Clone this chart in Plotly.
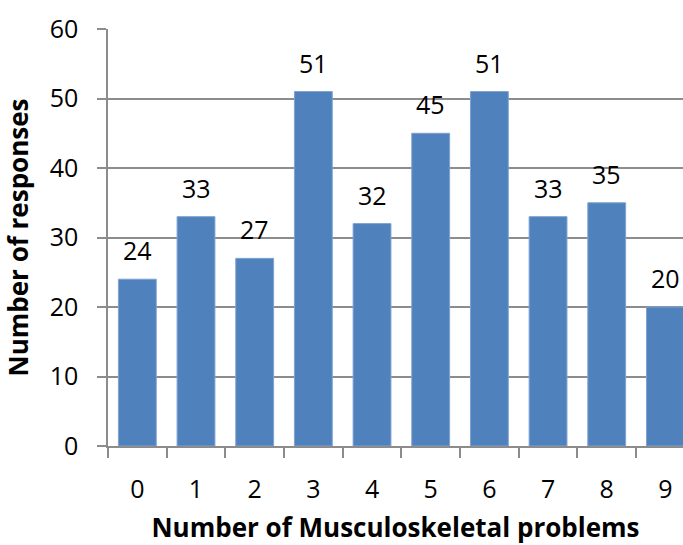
import plotly.graph_objects as go

problems = ["0", "1", "2", "3", "4", "5", "6", "7", "8", "9"]
responses = [24, 33, 27, 51, 32, 45, 51, 33, 35, 20]

fig = go.Figure()

fig.add_trace(go.Bar(
    x=problems,
    y=responses,
    marker=dict(color="#4F81BD", line=dict(color="#7FA3D3", width=1)),
    width=0.645,
))

# value labels above each bar
for cat, val in zip(problems, responses):
    fig.add_annotation(
        x=cat, y=val, text=str(val), showarrow=False,
        xanchor="center", yanchor="bottom", yshift=10,
        font=dict(family="Open Sans", size=25, color="black"),
    )

grey = "#8C8C8C"

fig.update_layout(
    width=683,
    height=545,
    margin=dict(l=108, r=0, t=29, b=99),
    plot_bgcolor="white",
    paper_bgcolor="white",
    showlegend=False,
    font=dict(family="Open Sans", size=25, color="black"),
    xaxis=dict(
        type="category",
        range=[-0.5, 9.3],
        showgrid=False,
        showline=True,
        linecolor=grey,
        linewidth=1.5,
        ticks="outside",
        tickson="boundaries",
        ticklen=10,
        tickcolor=grey,
        tickwidth=1.5,
        ticklabelstandoff=20,
        title=dict(text="<b>Number of Musculoskeletal problems</b>",
                   font=dict(size=26), standoff=23),
    ),
    yaxis=dict(
        range=[0, 60],
        dtick=10,
        showgrid=True,
        gridcolor=grey,
        gridwidth=1.5,
        showline=True,
        linecolor=grey,
        linewidth=1.5,
        ticks="outside",
        ticklen=9,
        tickcolor=grey,
        tickwidth=1.5,
        ticklabelstandoff=14,
        zeroline=False,
        title=dict(text="<b>Number of responses</b>",
                   font=dict(size=26), standoff=14),
    ),
)

fig.write_html("out.html", config={"displayModeBar": False},
               post_script="document.body.style.margin='0';")
